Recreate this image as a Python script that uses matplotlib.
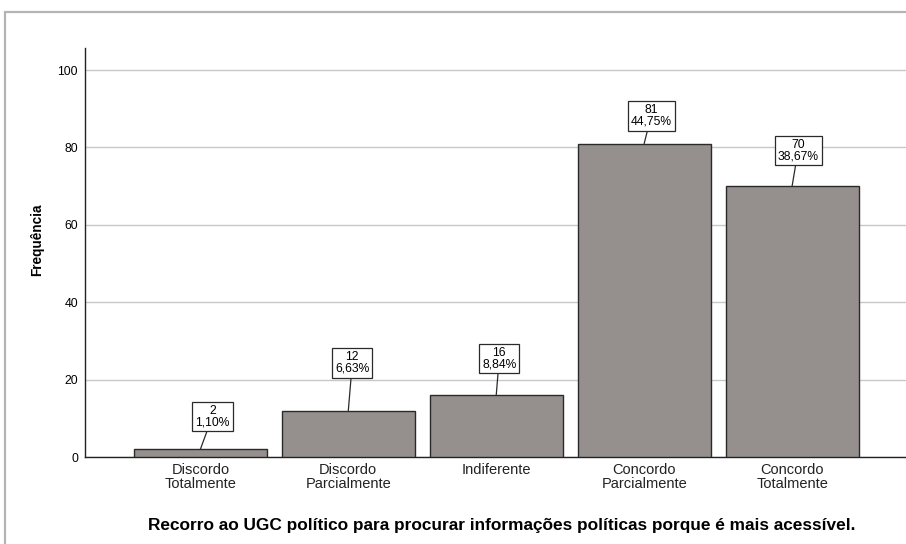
import matplotlib
matplotlib.use('Agg')
import matplotlib.pyplot as plt
from matplotlib.patches import Rectangle

plt.rcParams['font.family'] = ['Liberation Sans', 'DejaVu Sans']

categories = ['Discordo\nTotalmente', 'Discordo\nParcialmente', 'Indiferente',
              'Concordo\nParcialmente', 'Concordo\nTotalmente']
counts = [2, 12, 16, 81, 70]
percents = ['1,10%', '6,63%', '8,84%', '44,75%', '38,67%']
yticks = [0, 20, 40, 60, 80, 100]

# label box offsets in pixels (dx, dy) above each bar
offsets = [(12, 21), (4, 36), (3, 25), (7, 16), (6, 24)]

fig = plt.figure(figsize=(9.06, 5.44), dpi=100)
ax = fig.add_axes([85 / 906, 1 - 457 / 544, 821 / 906, 409 / 544])

# outer frame
fig.patches.append(Rectangle((5 / 906, -0.05), 1.1, 1 - 12 / 544 + 0.05,
                             transform=fig.transFigure, fill=False,
                             edgecolor='#b4b4b4', linewidth=1.6))

x = list(range(len(categories)))
ax.bar(x, counts, width=0.9, color='#958f8e', edgecolor='#2a2a2a',
       linewidth=1.0, zorder=3)

for i, (c, p) in enumerate(zip(counts, percents)):
    dx, dy = offsets[i]
    ax.annotate(f'{c}\n{p}', xy=(i, c), xytext=(dx, dy),
                textcoords='offset pixels', ha='center', va='bottom',
                fontsize=8.7, linespacing=0.95, zorder=5,
                bbox=dict(boxstyle='square,pad=0.25', fc='white',
                          ec='#2a2a2a', lw=0.9),
                arrowprops=dict(arrowstyle='-', color='#2a2a2a', lw=0.9,
                                shrinkA=0, shrinkB=0))

ax.set_xlim(-0.78, 4.77)
ax.set_ylim(0, 105.7)
ax.set_yticks(yticks)
ax.set_xticks(x)
ax.set_xticklabels(categories, fontsize=10.5, color='#222222', linespacing=1.05)
ax.tick_params(axis='both', length=0)
ax.tick_params(axis='y', labelsize=8.8, pad=5)
ax.tick_params(axis='x', pad=4)
ax.grid(axis='y', color='#c8c8c8', linewidth=1.0, zorder=0)

for s in ['top', 'right']:
    ax.spines[s].set_visible(False)
for s in ['left', 'bottom']:
    ax.spines[s].set_color('#222222')
    ax.spines[s].set_linewidth(1.0)

ax.set_ylabel('Frequência', fontsize=9.8, fontweight='bold')
ax.yaxis.set_label_coords(-0.05, 0.53)
ax.set_xlabel('Recorro ao UGC político para procurar informações políticas porque é mais acessível.',
              fontsize=12.4, fontweight='bold')
ax.xaxis.set_label_coords(0.508, -0.148)

fig.savefig('out.png', dpi=100)
